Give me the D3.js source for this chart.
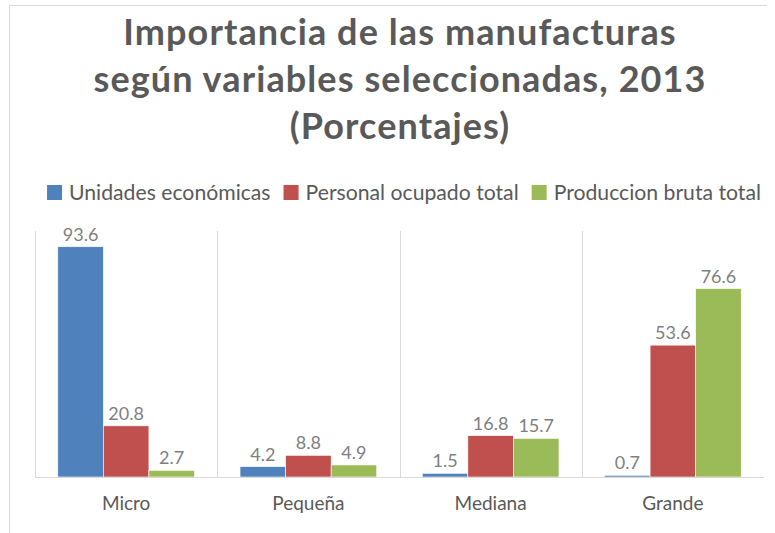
<!DOCTYPE html>
<html>
<head>
<meta charset="utf-8">
<script src="https://cdn.jsdelivr.net/npm/d3@7"></script>
<style>
  html, body { margin: 0; padding: 0; background: #fff; }
  svg { display: block; }
  text { font-family: Lato, "Open Sans", sans-serif; }
</style>
</head>
<body>
<svg id="chart" width="775" height="533"></svg>
<script>
// Chart data
const titleLines = ["Importancia de las manufacturas", "según variables seleccionadas, 2013", "(Porcentajes)"];
const categories = ["Micro", "Pequeña", "Mediana", "Grande"];
const seriesNames = ["Unidades económicas", "Personal ocupado total", "Produccion bruta total"];
const unidades = [93.6, 4.2, 1.5, 0.7];
const personal = [20.8, 8.8, 16.8, 53.6];
const produccion = [2.7, 4.9, 15.7, 76.6];
const seriesColors = ["#4F81BD", "#C0504D", "#9BBB59"];

const seriesValues = [unidades, personal, produccion];

const svg = d3.select("#chart");
const W = 775, H = 533;

// Plot area
const plot = { left: 35, right: 764, top: 231, bottom: 477 };

// Outer chart frame (top and left edges)
svg.append("line").attr("x1", 9.5).attr("x2", 767).attr("y1", 5.5).attr("y2", 5.5)
  .attr("stroke", "#d9d9d9").attr("stroke-width", 1);
svg.append("line").attr("x1", 9.5).attr("x2", 9.5).attr("y1", 5.5).attr("y2", H)
  .attr("stroke", "#d9d9d9").attr("stroke-width", 1);

// Title
const title = svg.append("text")
  .attr("text-anchor", "middle")
  .attr("fill", "#595959")
  .style("font-weight", "bold")
  .style("font-size", "36px")
  .style("letter-spacing", "1.1px");
titleLines.forEach((t, i) => {
  title.append("tspan").attr("x", 400).attr("y", 45 + i * 47).text(t);
});

// Scales
const x0 = d3.scaleBand().domain(categories).range([plot.left, plot.right]).paddingInner(0).paddingOuter(0);
const x1 = d3.scaleBand().domain(d3.range(seriesNames.length)).range([0, x0.bandwidth()]).paddingInner(0).paddingOuter(0.5);
const y = d3.scaleLinear().domain([0, 100]).range([plot.bottom, plot.top]);

// Category separators
svg.append("g").selectAll("line").data(categories).join("line")
  .attr("x1", d => Math.round(x0(d)) + 0.5)
  .attr("x2", d => Math.round(x0(d)) + 0.5)
  .attr("y1", y(100))
  .attr("y2", y(0))
  .attr("stroke", "#d9d9d9").attr("stroke-width", 1);

// Bars
const groups = svg.append("g").selectAll("g").data(categories).join("g")
  .attr("transform", d => `translate(${x0(d)},0)`);

groups.selectAll("rect")
  .data((c, ci) => seriesValues.map((vals, si) => ({ si, v: vals[ci] })))
  .join("rect")
  .attr("x", d => x1(d.si))
  .attr("width", x1.bandwidth())
  .attr("y", d => y(d.v))
  .attr("height", d => y(0) - y(d.v))
  .attr("fill", d => seriesColors[d.si])
  .attr("stroke", "#ffffff").attr("stroke-width", 0.6);

// Value labels
groups.selectAll("text.val")
  .data((c, ci) => seriesValues.map((vals, si) => ({ si, v: vals[ci] })))
  .join("text")
  .attr("class", "val")
  .attr("x", d => x1(d.si) + x1.bandwidth() / 2)
  .attr("y", d => y(d.v) - 6)
  .attr("text-anchor", "middle")
  .attr("fill", "#7f7f7f")
  .style("font-size", "18px")
  .text(d => d.v.toFixed(1));

// Baseline
svg.append("line")
  .attr("x1", plot.left).attr("x2", plot.right)
  .attr("y1", y(0) + 0.5).attr("y2", y(0) + 0.5)
  .attr("stroke", "#d9d9d9").attr("stroke-width", 1.2);

// Category axis labels
svg.append("g").selectAll("text").data(categories).join("text")
  .attr("x", d => x0(d) + x0.bandwidth() / 2)
  .attr("y", 510)
  .attr("text-anchor", "middle")
  .attr("fill", "#595959")
  .style("font-size", "19px")
  .text(d => d);

// Legend
const legend = svg.append("g");
const sq = 15, gapText = 7, gapItem = 13;
let cx = 0;
seriesNames.forEach((name, i) => {
  const item = legend.append("g").attr("transform", `translate(${cx},0)`);
  item.append("rect").attr("x", 0).attr("y", 185).attr("width", sq).attr("height", sq)
    .attr("fill", seriesColors[i]);
  const t = item.append("text").attr("x", sq + gapText).attr("y", 200)
    .attr("fill", "#595959").style("font-size", "21.2px").text(name);
  cx += sq + gapText + t.node().getComputedTextLength() + gapItem;
});
const legendWidth = cx - gapItem;
legend.attr("transform", `translate(${404 - legendWidth / 2},0)`);
</script>
</body>
</html>
